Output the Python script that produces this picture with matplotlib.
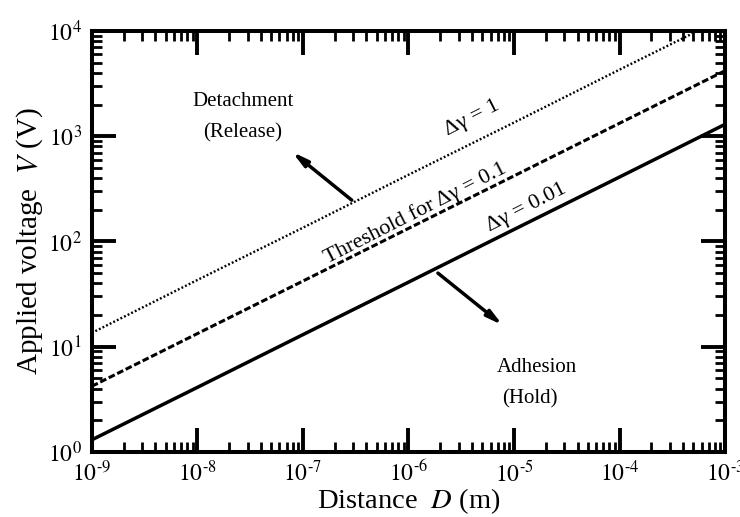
# Applied voltage vs distance, log-log, three threshold lines
import matplotlib
matplotlib.use("Agg")
import matplotlib.pyplot as plt
from matplotlib.ticker import FuncFormatter

plt.rcParams['font.family'] = ['Liberation Serif', 'DejaVu Serif']
plt.rcParams['mathtext.fontset'] = 'stix'

# distance values (m), one per decade
D = [1e-9, 1e-8, 1e-7, 1e-6, 1e-5, 1e-4, 1e-3]

# voltage for each line
V_001 = [1.3, 4.1, 13, 41, 130, 410, 1300]       # dgamma = 0.01 (solid)
V_01 = [4.2, 13.3, 42, 133, 420, 1330, 4200]     # dgamma = 0.1 (dashed)
V_1 = [13.5, 43, 135, 430, 1350, 4300, 13500]    # dgamma = 1 (dotted)


# tick label as 10^n with a short hyphen like the original
def powlabel(v, pos):
    import math
    n = int(round(math.log10(v)))
    if n < 0:
        return '$10^{\u2010' + str(-n) + '}$'
    return '$10^{' + str(n) + '}$'


fig = plt.figure(figsize=(7.4, 5.17), dpi=100)
ax = fig.add_axes([0.124, 0.126, 0.856, 0.814])

ax.plot(D, V_001, color='black', lw=2.5, ls='-')
ax.plot(D, V_01, color='black', lw=2.2, ls=(0, (2.2, 0.9)))
ax.plot(D, V_1, color='black', lw=1.7, ls=(0, (0.8, 0.9)))

ax.set_xscale('log')
ax.set_yscale('log')
ax.set_xlim(1e-9, 1e-3)
ax.set_ylim(1e0, 1e4)
ax.xaxis.set_major_formatter(FuncFormatter(powlabel))
ax.yaxis.set_major_formatter(FuncFormatter(powlabel))

# ticks inside on all sides
ax.tick_params(which='both', direction='in', top=True, right=True)
ax.tick_params(which='major', length=17, width=2.8, labelsize=17)
ax.tick_params(axis='x', which='major', pad=6)
ax.tick_params(axis='y', which='major', pad=7)
ax.tick_params(which='minor', length=7, width=2)
for s in ax.spines.values():
    s.set_linewidth(2.9)

ax.set_xlabel('Distance  $\\it{D}$ (m)', fontsize=20.5, labelpad=0)
ax.set_ylabel('Applied voltage  $\\it{V}$ (V)', fontsize=21, labelpad=2)

# line labels
ang = 27
ax.text(4e-6, 1480, 'Δγ = 1', fontsize=16, rotation=ang,
        ha='center', va='center', rotation_mode='anchor')
ax.text(1.17e-6, 186, 'Threshold for Δγ = 0.1', fontsize=16, rotation=ang,
        ha='center', va='center', rotation_mode='anchor')
ax.text(1.32e-5, 209, 'Δγ = 0.01', fontsize=16, rotation=ang,
        ha='center', va='center', rotation_mode='anchor')

# region labels
ax.text(2.7e-8, 2150, 'Detachment', fontsize=15, ha='center', va='center')
ax.text(2.7e-8, 1080, '(Release)', fontsize=15, ha='center', va='center')
ax.text(1.66e-5, 6.4, 'Adhesion', fontsize=15, ha='center', va='center')
ax.text(1.41e-5, 3.2, '(Hold)', fontsize=15, ha='center', va='center')

arrow = dict(arrowstyle='-|>,head_length=0.9,head_width=0.22',
             color='black', lw=2.5, shrinkA=0, shrinkB=0)
ax.annotate('', xy=(7.9e-8, 710), xytext=(2.9e-7, 247), arrowprops=arrow)
ax.annotate('', xy=(7.8e-6, 16), xytext=(1.9e-6, 50), arrowprops=arrow)

fig.savefig('out.png', dpi=100)
